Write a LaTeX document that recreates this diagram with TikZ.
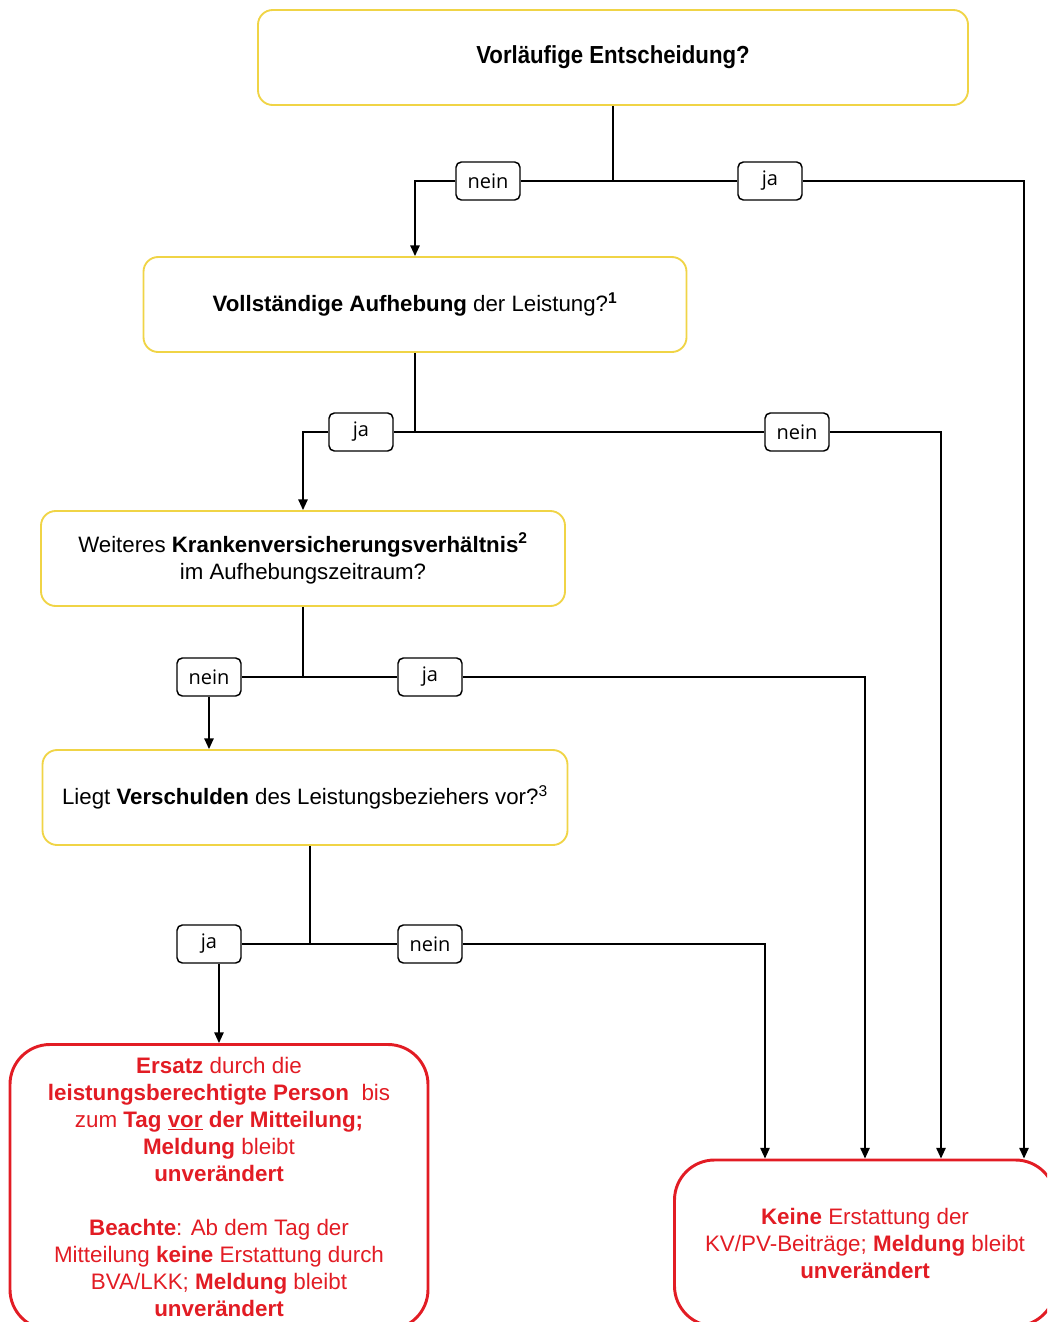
\documentclass[tikz,border=0pt]{standalone}
\usepackage{fontspec}
\setmainfont{Liberation Sans}
\newfontfamily\narrowfont[FakeStretch=0.9]{Liberation Sans}
\newfontfamily\labelfont{Open Sans}
\usetikzlibrary{arrows.meta,calc}

\definecolor{rahmengelb}{RGB}{240,212,70}
\definecolor{rahmenrot}{RGB}{226,28,36}

\tikzstyle{frage}=[draw=rahmengelb,line width=1.4pt,rounded corners=11pt,fill=white,minimum height=71.25pt,align=center,font=\fontsize{16.7}{20.5}\selectfont]
\tikzstyle{antwort}=[draw,line width=1.1pt,rounded corners=4pt,fill=white,minimum width=48pt,minimum height=28.5pt,inner sep=0pt,font=\labelfont\fontsize{15}{18}\selectfont]
\tikzstyle{ergebnis}=[draw=rahmenrot,line width=2.2pt,rounded corners=30pt,text=rahmenrot,align=center,font=\fontsize{16.8}{20.25}\selectfont]
\tikzstyle{pfeil}=[-{Triangle[length=8pt,width=7pt]},line width=1.2pt]
\tikzstyle{linie}=[line width=1.2pt]

\begin{document}
\begin{tikzpicture}[x=0.75pt,y=-0.75pt]
\clip (0,0) rectangle (1047,1322);

% FRAGEN
\node[frage,minimum width=532.5pt] (entscheidung) at (613,57.5) {\narrowfont\fontsize{18.5}{22}\selectfont\textbf{Vorläufige Entscheidung?}};
\node[frage,minimum width=407.25pt] (aufhebung) at (415,304.5) {\textbf{Vollständige Aufhebung} der Leistung?\textsuperscript{\textbf{1}}};
\node[frage,minimum width=393pt] (kvverh) at (303,558.5) {Weiteres \textbf{Krankenversicherungsverhältnis}\textsuperscript{\textbf{2}}\\im Aufhebungszeitraum?};
\node[frage,minimum width=393.75pt] (verschulden) at (305,797.5) {Liegt \textbf{Verschulden} des Leistungsbeziehers vor?\textsuperscript{3}};

% ERGEBNISSE
\node[ergebnis,minimum width=313.5pt,minimum height=213.75pt] (ersatz) at (219,1187) {\textbf{Ersatz} durch die\\
\textbf{leistungsberechtigte Person}\ \ bis\\
zum \textbf{Tag \underline{vor} der Mitteilung;}\\
\textbf{Meldung} bleibt\\
\textbf{unverändert}\\[20.25pt]
\textbf{Beachte}: Ab dem Tag der\\
Mitteilung \textbf{keine} Erstattung durch\\
BVA/LKK; \textbf{Meldung} bleibt\\
\textbf{unverändert}};
\node[ergebnis,minimum width=285.75pt,minimum height=124.5pt] (keine) at (865,1243) {\textbf{Keine} Erstattung der\\
KV/PV-Beiträge; \textbf{Meldung} bleibt\\
\textbf{unverändert}};

% ANTWORTEN
\node[antwort] (nein1) at (488,181) {nein};
\node[antwort] (ja1) at (770,181) {ja};
\node[antwort] (ja2) at (361,432) {ja};
\node[antwort] (nein2) at (797,432) {nein};
\node[antwort] (nein3) at (209,677) {nein};
\node[antwort] (ja3) at (430,677) {ja};
\node[antwort] (ja4) at (209,944) {ja};
\node[antwort] (nein4) at (430,944) {nein};

% STUFE 1
\draw[linie] (entscheidung.south) -- (entscheidung.south |- ja1.west) -- (ja1.west);
\draw[linie] (entscheidung.south |- nein1.east) -- (nein1.east);
\draw[pfeil] (nein1.west) -| (aufhebung.north);
\draw[pfeil] (ja1.east) -| ($(keine.north)+(159,0)$);

% STUFE 2
\draw[linie] (aufhebung.south) -- (aufhebung.south |- nein2.west) -- (nein2.west);
\draw[linie] (aufhebung.south |- ja2.east) -- (ja2.east);
\draw[pfeil] (ja2.west) -| (kvverh.north);
\draw[pfeil] (nein2.east) -| ($(keine.north)+(76,0)$);

% STUFE 3
\draw[linie] (kvverh.south) -- (kvverh.south |- ja3.west) -- (ja3.west);
\draw[linie] (kvverh.south |- nein3.east) -- (nein3.east);
\draw[pfeil] (nein3.south) -- (nein3.south |- verschulden.north);
\draw[pfeil] (ja3.east) -| (keine.north);

% STUFE 4
\coordinate (v4) at ($(verschulden.south)+(5,0)$);
\draw[linie] (v4) -- (v4 |- nein4.west) -- (nein4.west);
\draw[linie] (v4 |- ja4.east) -- (ja4.east);
\draw[pfeil] (ja4.south -| ersatz.north) -- (ersatz.north);
\draw[pfeil] (nein4.east) -| ($(keine.north)+(-100,0)$);

\end{tikzpicture}
\end{document}
